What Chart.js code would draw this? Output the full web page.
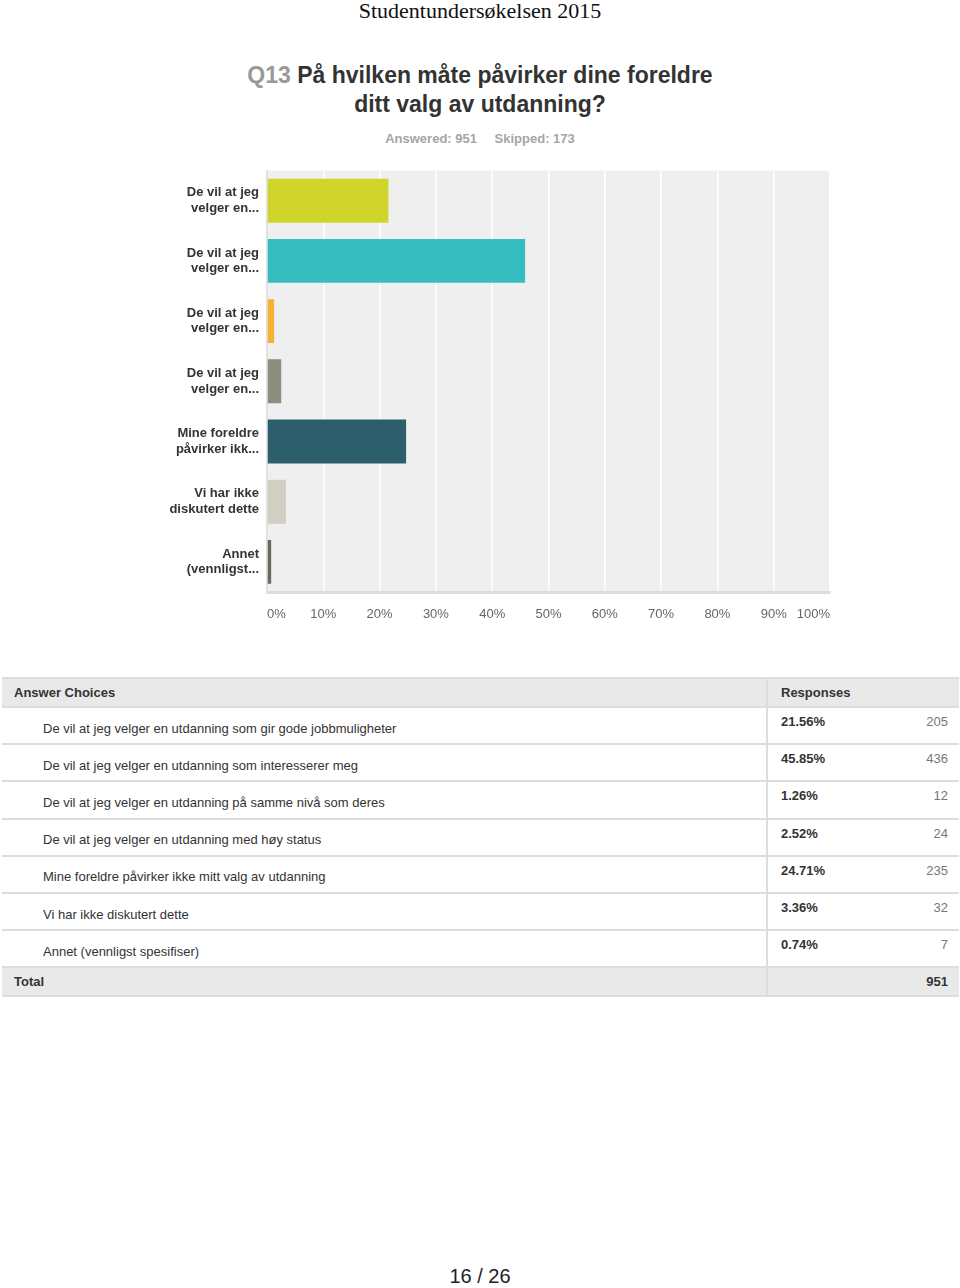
<!DOCTYPE html>
<html>
<head>
<meta charset="utf-8">
<script src="https://cdn.jsdelivr.net/npm/chart.js@4/dist/chart.umd.min.js"></script>
<style>
  body { margin: 0; width: 960px; height: 1288px; position: relative; background: #fff; font-family: Arial, "Liberation Sans", sans-serif; }
  #page-head { position: absolute; top: -1px; left: 0; width: 960px; text-align: center; font-family: "Liberation Serif", "Times New Roman", serif; font-size: 22px; color: #111; line-height: 24px; }
  #title { position: absolute; top: 61px; left: 0; width: 960px; text-align: center; font-size: 23px; font-weight: bold; color: #333; line-height: 29px; }
  #title span { color: #999; }
  #stats { position: absolute; top: 131px; left: 0; width: 960px; text-align: center; font-size: 13px; font-weight: bold; color: #a5a5a5; }
  #stats b { margin: 0 7px; }
  #chart-box { position: absolute; left: 150px; top: 147px; width: 695px; height: 483px; }
  table { position: absolute; top: 677px; left: 2px; width: 957px; border-collapse: collapse; table-layout: fixed; font-size: 13px; color: #333; }
  th, td { padding: 0; border-bottom: 2px solid #ddd; }
  thead tr, tr.total { background: #e9e9e9; }
  thead tr { border-top: 2px solid #ddd; }
  th { text-align: left; height: 27px; font-weight: bold; }
  td.choice { height: 37.2px; padding: 5px 0 0 41px; vertical-align: middle; box-sizing: border-box; }
  td.pct { border-left: 2px solid #ddd; vertical-align: top; padding: 6px 0 0 13px; font-weight: bold; }
  td.cnt { text-align: right; vertical-align: top; padding: 6px 11px 0 0; color: #777; }
  tr.total td { height: 27px; font-weight: bold; color: #333; padding-top: 0; vertical-align: middle; }
  #page-foot { position: absolute; top: 1265px; left: 0; width: 960px; text-align: center; font-size: 20px; color: #222; }
</style>
</head>
<body>
<div id="page-head">Studentundersøkelsen 2015</div>
<div id="title"><span>Q13</span> På hvilken måte påvirker dine foreldre<br>ditt valg av utdanning?</div>
<div id="stats"><b>Answered: 951</b> <b>Skipped: 173</b></div>
<div id="chart-box"><canvas id="q13-chart"></canvas></div>
<table id="results-table">
  <colgroup><col style="width:765px"><col style="width:100px"><col style="width:92px"></colgroup>
</table>
<div id="page-foot">16 / 26</div>

<script>
// Svaralternativer (fulle tekster i tabellen, forkortet i grafen)
const answerChoices = [
  'De vil at jeg velger en utdanning som gir gode jobbmuligheter',
  'De vil at jeg velger en utdanning som interesserer meg',
  'De vil at jeg velger en utdanning på samme nivå som deres',
  'De vil at jeg velger en utdanning med høy status',
  'Mine foreldre påvirker ikke mitt valg av utdanning',
  'Vi har ikke diskutert dette',
  'Annet (vennligst spesifiser)',
];
const shortLabels = [
  ['De vil at jeg', 'velger en...'],
  ['De vil at jeg', 'velger en...'],
  ['De vil at jeg', 'velger en...'],
  ['De vil at jeg', 'velger en...'],
  ['Mine foreldre', 'påvirker ikk...'],
  ['Vi har ikke', 'diskutert dette'],
  ['Annet', '(vennligst...'],
];
const percentValues = [21.56, 45.85, 1.26, 2.52, 24.71, 3.36, 0.74];
const responseCounts = [205, 436, 12, 24, 235, 32, 7];
const totalAnswered = 951;
const barColors = ['#cfd52a', '#35bdc0', '#f5b233', '#8c8e7e', '#2c5e6c', '#d1cfc2', '#6a6858'];
const xTicks = [0, 10, 20, 30, 40, 50, 60, 70, 80, 90, 100];

// Fundo cinza da área do gráfico
const plotBackground = {
  id: 'plotBackground',
  beforeDraw(chart) {
    const { ctx, chartArea } = chart;
    ctx.save();
    ctx.fillStyle = '#efefef';
    ctx.fillRect(chartArea.left, chartArea.top, chartArea.right - chartArea.left, chartArea.bottom - chartArea.top);
    ctx.restore();
  },
};

const chartEl = document.getElementById('q13-chart');
new Chart(chartEl, {
  type: 'bar',
  data: {
    labels: shortLabels,
    datasets: [
      {
        data: percentValues,
        backgroundColor: barColors,
        barPercentage: 0.73,
        categoryPercentage: 1,
      },
    ],
  },
  options: {
    indexAxis: 'y',
    responsive: true,
    maintainAspectRatio: false,
    animation: false,
    layout: { padding: { top: 10, right: 0, left: 0, bottom: 0 } },
    plugins: { legend: { display: false }, tooltip: { enabled: false } },
    scales: {
      x: {
        min: 0,
        max: 100,
        afterBuildTicks: (scale) => {
          scale.ticks = xTicks.map((v) => ({ value: v }));
        },
        afterFit: (scale) => {
          scale.height = 38;
        },
        grid: { color: '#ffffff', lineWidth: 1.5, drawTicks: false },
        border: { color: '#dcdcdc', width: 3 },
        ticks: {
          align: 'inner',
          padding: 15,
          color: '#666',
          font: { family: 'Arial, "Liberation Sans", sans-serif', size: 13 },
          callback: (v) => v + '%',
        },
      },
      y: {
        afterFit: (scale) => {
          scale.width = 117;
        },
        grid: { display: false, drawTicks: false },
        border: { color: '#e2e2e2', width: 2 },
        ticks: {
          padding: 8,
          color: '#333',
          font: { family: 'Arial, "Liberation Sans", sans-serif', size: 13, weight: 'bold', lineHeight: 1.2 },
        },
      },
    },
  },
  plugins: [plotBackground],
});

// Montando a tabela de respostas
function createTable() {
  const table = document.getElementById('results-table');
  let html = '<thead><tr><th style="padding-left:12px">Answer Choices</th>' +
    '<th colspan="2" style="border-left:2px solid #ddd;padding-left:13px">Responses</th></tr></thead><tbody>';
  answerChoices.forEach((choice, i) => {
    html += '<tr><td class="choice">' + choice + '</td>' +
      '<td class="pct">' + percentValues[i].toFixed(2) + '%</td>' +
      '<td class="cnt">' + responseCounts[i] + '</td></tr>';
  });
  html += '<tr class="total"><td style="padding-left:12px">Total</td>' +
    '<td style="border-left:2px solid #ddd"></td><td style="text-align:right;padding-right:11px">' + totalAnswered + '</td></tr>';
  html += '</tbody>';
  table.insertAdjacentHTML('beforeend', html);
}

createTable();
</script>
</body>
</html>
